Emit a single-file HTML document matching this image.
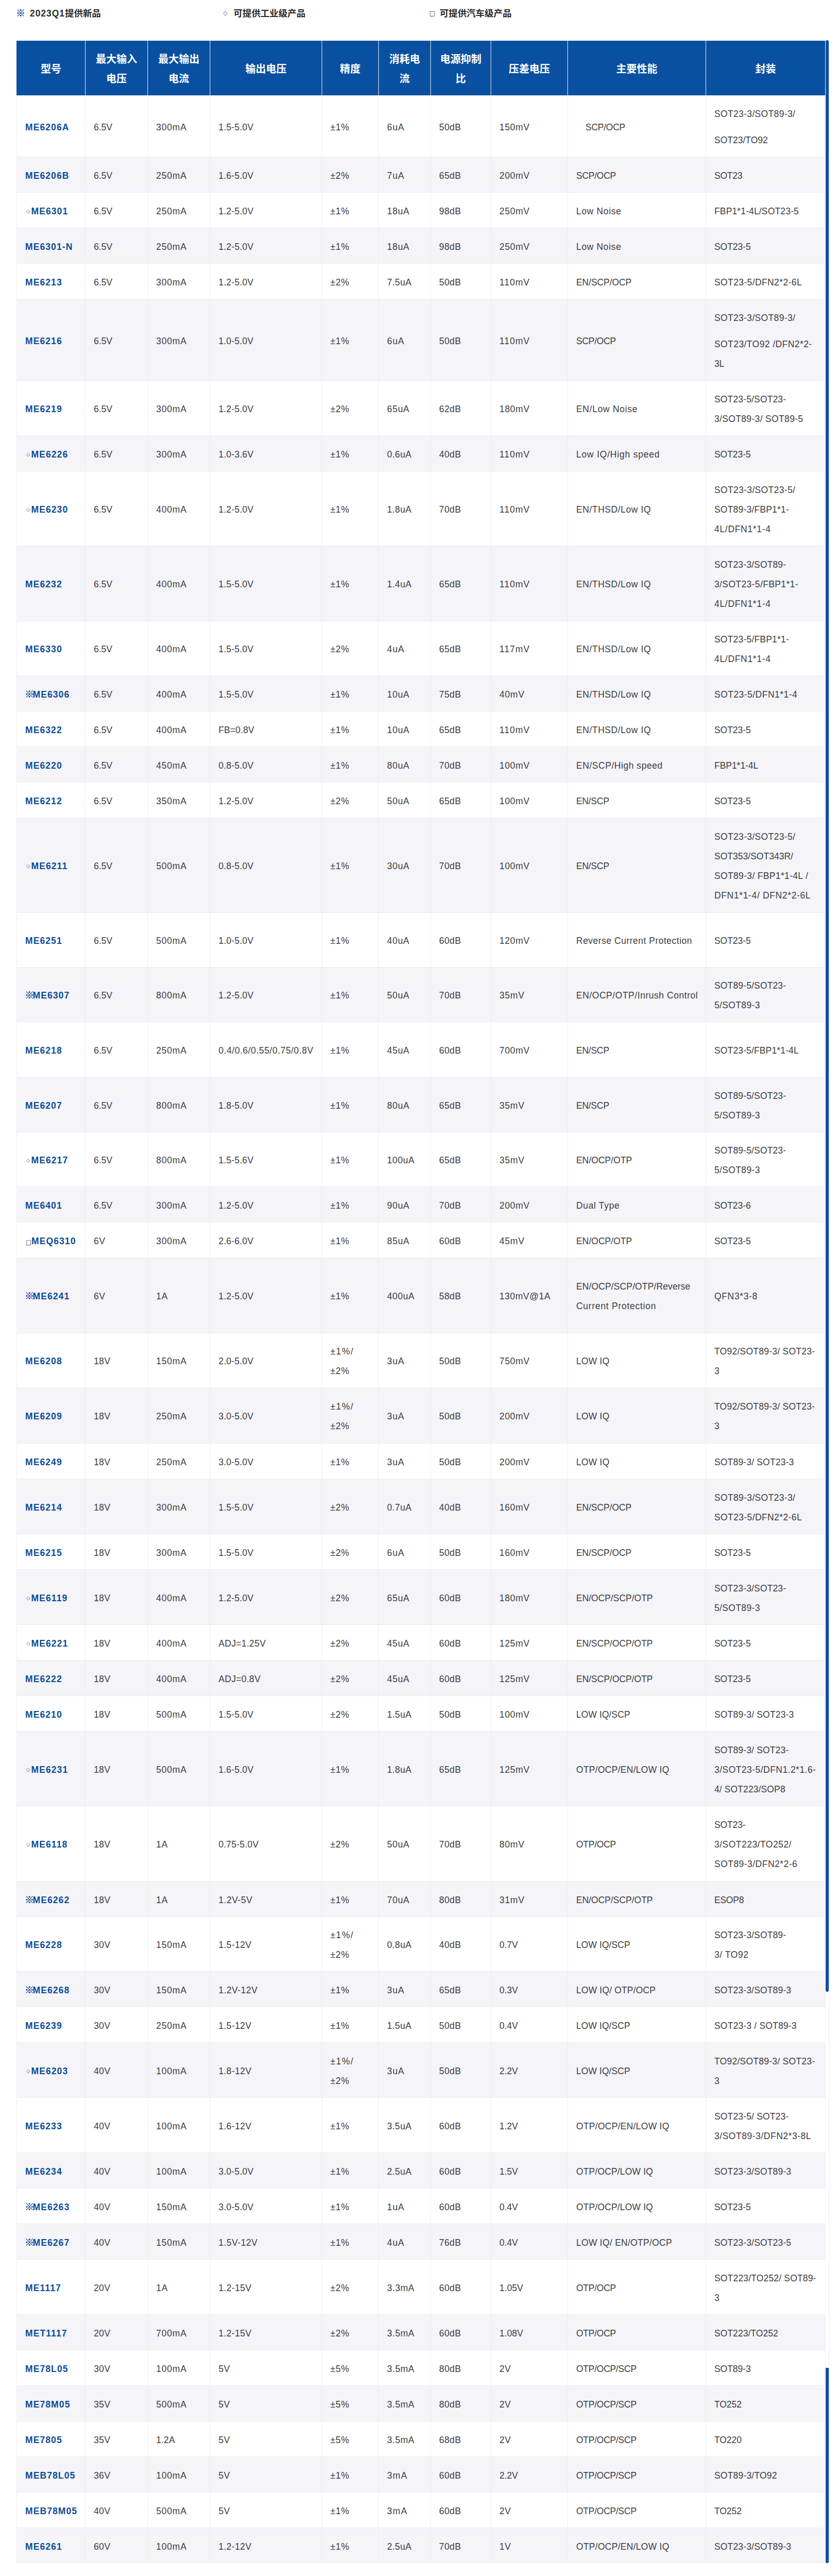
<!DOCTYPE html>
<html lang="zh-CN">
<head>
<meta charset="utf-8">
<title>LDO</title>
<style>
*{box-sizing:border-box;margin:0;padding:0}
html,body{background:#fff}
body{width:1624px;height:5007px;overflow:hidden;font-family:"Liberation Sans","Noto Sans CJK SC",sans-serif;font-size:17.5px;color:#3d3d3d;line-height:38px}
.page{position:relative;width:1624px;height:5007px;overflow:hidden}
i{font-style:normal}
.legend{list-style:none;position:absolute;left:0;top:7px;height:38px;width:1624px}
.legend li{position:absolute;top:0;white-space:nowrap;line-height:38px}
.legend b{font-weight:bold;color:#2b2b2b;letter-spacing:-.05px}
.legend b span{letter-spacing:.95px}
.legend i{display:inline-block;width:25px;vertical-align:top}
.legend .lx{color:#174a96;font-weight:bold;font-size:18px;margin-left:-2px;width:27px;-webkit-text-stroke:.4px #174a96}
.legend .ld{font-size:11px;width:20px;color:#1c3d7a}
.legend .ls{font-size:12px;width:20px;color:#1c3d7a}
.tbl{position:absolute;left:32px;top:79px;width:1570px;border-right:1px solid #eef2f8}
.tr{display:flex;width:1569px;background:#fff}
.tr.odd{background:#f4f4f9}
.td{flex:none;display:flex;align-items:center;border-left:1px solid #eeeef2;border-top:1px solid #eeeef2;padding:3px 8px 0 16px;white-space:nowrap;overflow:hidden;letter-spacing:.35px}
.td>div{width:100%}
.th{background:#0950a1}
.th .td{justify-content:center;text-align:center;color:#fff;font-weight:bold;font-size:20px;line-height:38px;padding:3px 0 0 0;border-left:1px solid #e4eefa;border-top:0;letter-spacing:0}
.th .td.c0{border-left:1px solid #0950a1}
.td.m{font-weight:bold;color:#0b4a97;letter-spacing:1.1px;padding-left:16px}
.td p.g{margin-top:13px}
.ind{padding-left:18px}
.sd,.ss,.sx{display:inline-block;vertical-align:top;letter-spacing:0}
.sd,.ss,.ld,.ls{font-family:"DejaVu Sans",sans-serif}
.sd{width:11.5px;font-size:9.5px;font-weight:normal;color:#1c2d5a;padding-left:2px}
.ss{width:12px;font-size:11.5px;font-weight:normal;color:#1c2d5a;padding-left:1px;position:relative;top:2.5px}
.sx{width:15.5px;font-size:18px;margin-left:-1px;-webkit-text-stroke:.35px #0b4a97}
.sb{position:absolute;left:1602px;width:6px;background:#0d4fa6}
.sb1{top:78px;height:3788px;border-radius:3px}
.sb2{top:4596px;height:379px;border-radius:0 0 3px 3px}
.trk{position:absolute;left:1608px;top:79px;width:1px;height:4896px;background:#f1f1f3}
</style>
</head>
<body>
<div class="page">
<ul class="legend"><li style="left:33px"><i class="lx">※</i><b><span>2023Q1</span>提供新品</b></li><li style="left:433px"><i class="ld">◇</i><b>可提供工业级产品</b></li><li style="left:833px"><i class="ls">□</i><b>可提供汽车级产品</b></li></ul>
<div class="tbl">
<div class="tr th" style="height:106px"><div class="td c0" style="width:133px"><div>型号</div></div><div class="td c1" style="width:121px"><div>最大输入<br>电压</div></div><div class="td c2" style="width:121px"><div>最大输出<br>电流</div></div><div class="td c3" style="width:217px"><div>输出电压</div></div><div class="td c4" style="width:110px"><div>精度</div></div><div class="td c5" style="width:101px"><div>消耗电<br>流</div></div><div class="td c6" style="width:117px"><div>电源抑制<br>比</div></div><div class="td c7" style="width:149px"><div>压差电压</div></div><div class="td c8" style="width:268px"><div>主要性能</div></div><div class="td c9" style="width:232px"><div>封装</div></div></div>
<div class="tr" style="height:119px"><div class="td m" style="width:133px"><div>ME6206A</div></div><div class="td" style="width:121px"><div><span style="letter-spacing:-0.01px">6.5V</span></div></div><div class="td" style="width:121px"><div><span style="letter-spacing:0.79px">300mA</span></div></div><div class="td" style="width:217px"><div><span style="letter-spacing:0.22px">1.5-5.0V</span></div></div><div class="td" style="width:110px"><div><span style="letter-spacing:0.76px">±1%</span></div></div><div class="td" style="width:101px"><div><span style="letter-spacing:0.92px">6uA</span></div></div><div class="td" style="width:117px"><div><span style="letter-spacing:0.4px">50dB</span></div></div><div class="td" style="width:149px"><div><span style="letter-spacing:0.69px">150mV</span></div></div><div class="td" style="width:268px"><div><span class="ind"><span style="letter-spacing:-0.25px">SCP/OCP</span></span></div></div><div class="td" style="width:232px"><div><p><span style="letter-spacing:0.34px">SOT23-3/SOT89-3/</span></p><p class="g"><span style="letter-spacing:0px">SOT23/TO92</span></p></div></div></div>
<div class="tr odd" style="height:69px"><div class="td m" style="width:133px"><div>ME6206B</div></div><div class="td" style="width:121px"><div><span style="letter-spacing:-0.01px">6.5V</span></div></div><div class="td" style="width:121px"><div><span style="letter-spacing:0.79px">250mA</span></div></div><div class="td" style="width:217px"><div><span style="letter-spacing:0.22px">1.6-5.0V</span></div></div><div class="td" style="width:110px"><div><span style="letter-spacing:0.76px">±2%</span></div></div><div class="td" style="width:101px"><div><span style="letter-spacing:0.92px">7uA</span></div></div><div class="td" style="width:117px"><div><span style="letter-spacing:0.4px">65dB</span></div></div><div class="td" style="width:149px"><div><span style="letter-spacing:0.69px">200mV</span></div></div><div class="td" style="width:268px"><div><span style="letter-spacing:-0.25px">SCP/OCP</span></div></div><div class="td" style="width:232px"><div><span style="letter-spacing:-0.25px">SOT23</span></div></div></div>
<div class="tr" style="height:69px"><div class="td m" style="width:133px"><div><i class="sd">◇</i>ME6301</div></div><div class="td" style="width:121px"><div><span style="letter-spacing:-0.01px">6.5V</span></div></div><div class="td" style="width:121px"><div><span style="letter-spacing:0.79px">250mA</span></div></div><div class="td" style="width:217px"><div><span style="letter-spacing:0.22px">1.2-5.0V</span></div></div><div class="td" style="width:110px"><div><span style="letter-spacing:0.76px">±1%</span></div></div><div class="td" style="width:101px"><div><span style="letter-spacing:0.71px">18uA</span></div></div><div class="td" style="width:117px"><div><span style="letter-spacing:0.4px">98dB</span></div></div><div class="td" style="width:149px"><div><span style="letter-spacing:0.69px">250mV</span></div></div><div class="td" style="width:268px"><div><span style="letter-spacing:0.65px">Low Noise</span></div></div><div class="td" style="width:232px"><div><span style="letter-spacing:0.14px">FBP1*1-4L/SOT23-5</span></div></div></div>
<div class="tr odd" style="height:69px"><div class="td m" style="width:133px"><div>ME6301-N</div></div><div class="td" style="width:121px"><div><span style="letter-spacing:-0.01px">6.5V</span></div></div><div class="td" style="width:121px"><div><span style="letter-spacing:0.79px">250mA</span></div></div><div class="td" style="width:217px"><div><span style="letter-spacing:0.22px">1.2-5.0V</span></div></div><div class="td" style="width:110px"><div><span style="letter-spacing:0.76px">±1%</span></div></div><div class="td" style="width:101px"><div><span style="letter-spacing:0.71px">18uA</span></div></div><div class="td" style="width:117px"><div><span style="letter-spacing:0.4px">98dB</span></div></div><div class="td" style="width:149px"><div><span style="letter-spacing:0.69px">250mV</span></div></div><div class="td" style="width:268px"><div><span style="letter-spacing:0.65px">Low Noise</span></div></div><div class="td" style="width:232px"><div><span style="letter-spacing:-0.06px">SOT23-5</span></div></div></div>
<div class="tr" style="height:69px"><div class="td m" style="width:133px"><div>ME6213</div></div><div class="td" style="width:121px"><div><span style="letter-spacing:-0.01px">6.5V</span></div></div><div class="td" style="width:121px"><div><span style="letter-spacing:0.79px">300mA</span></div></div><div class="td" style="width:217px"><div><span style="letter-spacing:0.22px">1.2-5.0V</span></div></div><div class="td" style="width:110px"><div><span style="letter-spacing:0.76px">±2%</span></div></div><div class="td" style="width:101px"><div><span style="letter-spacing:0.35px">7.5uA</span></div></div><div class="td" style="width:117px"><div><span style="letter-spacing:0.4px">50dB</span></div></div><div class="td" style="width:149px"><div><span style="letter-spacing:1.01px">110mV</span></div></div><div class="td" style="width:268px"><div><span style="letter-spacing:-0.08px">EN/SCP/OCP</span></div></div><div class="td" style="width:232px"><div><span style="letter-spacing:0.39px">SOT23-5/DFN2*2-6L</span></div></div></div>
<div class="tr odd" style="height:159px"><div class="td m" style="width:133px"><div>ME6216</div></div><div class="td" style="width:121px"><div><span style="letter-spacing:-0.01px">6.5V</span></div></div><div class="td" style="width:121px"><div><span style="letter-spacing:0.79px">300mA</span></div></div><div class="td" style="width:217px"><div><span style="letter-spacing:0.22px">1.0-5.0V</span></div></div><div class="td" style="width:110px"><div><span style="letter-spacing:0.76px">±1%</span></div></div><div class="td" style="width:101px"><div><span style="letter-spacing:0.92px">6uA</span></div></div><div class="td" style="width:117px"><div><span style="letter-spacing:0.4px">50dB</span></div></div><div class="td" style="width:149px"><div><span style="letter-spacing:1.01px">110mV</span></div></div><div class="td" style="width:268px"><div><span style="letter-spacing:-0.25px">SCP/OCP</span></div></div><div class="td" style="width:232px"><div><p><span style="letter-spacing:0.34px">SOT23-3/SOT89-3/</span></p><p class="g"><span style="letter-spacing:0.42px">SOT23/TO92 /DFN2*2-</span><br><span style="letter-spacing:-0.25px">3L</span></p></div></div></div>
<div class="tr" style="height:106px"><div class="td m" style="width:133px"><div>ME6219</div></div><div class="td" style="width:121px"><div><span style="letter-spacing:-0.01px">6.5V</span></div></div><div class="td" style="width:121px"><div><span style="letter-spacing:0.79px">300mA</span></div></div><div class="td" style="width:217px"><div><span style="letter-spacing:0.22px">1.2-5.0V</span></div></div><div class="td" style="width:110px"><div><span style="letter-spacing:0.76px">±2%</span></div></div><div class="td" style="width:101px"><div><span style="letter-spacing:0.71px">65uA</span></div></div><div class="td" style="width:117px"><div><span style="letter-spacing:0.4px">62dB</span></div></div><div class="td" style="width:149px"><div><span style="letter-spacing:0.69px">180mV</span></div></div><div class="td" style="width:268px"><div><span style="letter-spacing:0.69px">EN/Low Noise</span></div></div><div class="td" style="width:232px"><div><span style="letter-spacing:0.15px">SOT23-5/SOT23-</span><br><span style="letter-spacing:0.34px">3/SOT89-3/ SOT89-5</span></div></div></div>
<div class="tr odd" style="height:69px"><div class="td m" style="width:133px"><div><i class="sd">◇</i>ME6226</div></div><div class="td" style="width:121px"><div><span style="letter-spacing:-0.01px">6.5V</span></div></div><div class="td" style="width:121px"><div><span style="letter-spacing:0.79px">300mA</span></div></div><div class="td" style="width:217px"><div><span style="letter-spacing:0.22px">1.0-3.6V</span></div></div><div class="td" style="width:110px"><div><span style="letter-spacing:0.76px">±1%</span></div></div><div class="td" style="width:101px"><div><span style="letter-spacing:0.35px">0.6uA</span></div></div><div class="td" style="width:117px"><div><span style="letter-spacing:0.4px">40dB</span></div></div><div class="td" style="width:149px"><div><span style="letter-spacing:1.01px">110mV</span></div></div><div class="td" style="width:268px"><div><span style="letter-spacing:0.79px">Low IQ/High speed</span></div></div><div class="td" style="width:232px"><div><span style="letter-spacing:-0.06px">SOT23-5</span></div></div></div>
<div class="tr" style="height:145px"><div class="td m" style="width:133px"><div><i class="sd">◇</i>ME6230</div></div><div class="td" style="width:121px"><div><span style="letter-spacing:-0.01px">6.5V</span></div></div><div class="td" style="width:121px"><div><span style="letter-spacing:0.79px">400mA</span></div></div><div class="td" style="width:217px"><div><span style="letter-spacing:0.22px">1.2-5.0V</span></div></div><div class="td" style="width:110px"><div><span style="letter-spacing:0.76px">±1%</span></div></div><div class="td" style="width:101px"><div><span style="letter-spacing:0.35px">1.8uA</span></div></div><div class="td" style="width:117px"><div><span style="letter-spacing:0.4px">70dB</span></div></div><div class="td" style="width:149px"><div><span style="letter-spacing:1.01px">110mV</span></div></div><div class="td" style="width:268px"><div><span style="letter-spacing:0.57px">EN/THSD/Low IQ</span></div></div><div class="td" style="width:232px"><div><span style="letter-spacing:0.34px">SOT23-3/SOT23-5/</span><br><span style="letter-spacing:0.2px">SOT89-3/FBP1*1-</span><br><span style="letter-spacing:0.69px">4L/DFN1*1-4</span></div></div></div>
<div class="tr odd" style="height:146px"><div class="td m" style="width:133px"><div>ME6232</div></div><div class="td" style="width:121px"><div><span style="letter-spacing:-0.01px">6.5V</span></div></div><div class="td" style="width:121px"><div><span style="letter-spacing:0.79px">400mA</span></div></div><div class="td" style="width:217px"><div><span style="letter-spacing:0.22px">1.5-5.0V</span></div></div><div class="td" style="width:110px"><div><span style="letter-spacing:0.76px">±1%</span></div></div><div class="td" style="width:101px"><div><span style="letter-spacing:0.35px">1.4uA</span></div></div><div class="td" style="width:117px"><div><span style="letter-spacing:0.4px">65dB</span></div></div><div class="td" style="width:149px"><div><span style="letter-spacing:1.01px">110mV</span></div></div><div class="td" style="width:268px"><div><span style="letter-spacing:0.57px">EN/THSD/Low IQ</span></div></div><div class="td" style="width:232px"><div><span style="letter-spacing:0.15px">SOT23-3/SOT89-</span><br><span style="letter-spacing:0.37px">3/SOT23-5/FBP1*1-</span><br><span style="letter-spacing:0.69px">4L/DFN1*1-4</span></div></div></div>
<div class="tr" style="height:106px"><div class="td m" style="width:133px"><div>ME6330</div></div><div class="td" style="width:121px"><div><span style="letter-spacing:-0.01px">6.5V</span></div></div><div class="td" style="width:121px"><div><span style="letter-spacing:0.79px">400mA</span></div></div><div class="td" style="width:217px"><div><span style="letter-spacing:0.22px">1.5-5.0V</span></div></div><div class="td" style="width:110px"><div><span style="letter-spacing:0.76px">±2%</span></div></div><div class="td" style="width:101px"><div><span style="letter-spacing:0.92px">4uA</span></div></div><div class="td" style="width:117px"><div><span style="letter-spacing:0.4px">65dB</span></div></div><div class="td" style="width:149px"><div><span style="letter-spacing:1.01px">117mV</span></div></div><div class="td" style="width:268px"><div><span style="letter-spacing:0.57px">EN/THSD/Low IQ</span></div></div><div class="td" style="width:232px"><div><span style="letter-spacing:0.2px">SOT23-5/FBP1*1-</span><br><span style="letter-spacing:0.69px">4L/DFN1*1-4</span></div></div></div>
<div class="tr odd" style="height:69px"><div class="td m" style="width:133px"><div><i class="sx">※</i>ME6306</div></div><div class="td" style="width:121px"><div><span style="letter-spacing:-0.01px">6.5V</span></div></div><div class="td" style="width:121px"><div><span style="letter-spacing:0.79px">400mA</span></div></div><div class="td" style="width:217px"><div><span style="letter-spacing:0.22px">1.5-5.0V</span></div></div><div class="td" style="width:110px"><div><span style="letter-spacing:0.76px">±1%</span></div></div><div class="td" style="width:101px"><div><span style="letter-spacing:0.71px">10uA</span></div></div><div class="td" style="width:117px"><div><span style="letter-spacing:0.4px">75dB</span></div></div><div class="td" style="width:149px"><div><span style="letter-spacing:0.82px">40mV</span></div></div><div class="td" style="width:268px"><div><span style="letter-spacing:0.57px">EN/THSD/Low IQ</span></div></div><div class="td" style="width:232px"><div><span style="letter-spacing:0.47px">SOT23-5/DFN1*1-4</span></div></div></div>
<div class="tr" style="height:69px"><div class="td m" style="width:133px"><div>ME6322</div></div><div class="td" style="width:121px"><div><span style="letter-spacing:-0.01px">6.5V</span></div></div><div class="td" style="width:121px"><div><span style="letter-spacing:0.79px">400mA</span></div></div><div class="td" style="width:217px"><div><span style="letter-spacing:0.09px">FB=0.8V</span></div></div><div class="td" style="width:110px"><div><span style="letter-spacing:0.76px">±1%</span></div></div><div class="td" style="width:101px"><div><span style="letter-spacing:0.71px">10uA</span></div></div><div class="td" style="width:117px"><div><span style="letter-spacing:0.4px">65dB</span></div></div><div class="td" style="width:149px"><div><span style="letter-spacing:1.01px">110mV</span></div></div><div class="td" style="width:268px"><div><span style="letter-spacing:0.57px">EN/THSD/Low IQ</span></div></div><div class="td" style="width:232px"><div><span style="letter-spacing:-0.06px">SOT23-5</span></div></div></div>
<div class="tr odd" style="height:69px"><div class="td m" style="width:133px"><div>ME6220</div></div><div class="td" style="width:121px"><div><span style="letter-spacing:-0.01px">6.5V</span></div></div><div class="td" style="width:121px"><div><span style="letter-spacing:0.79px">450mA</span></div></div><div class="td" style="width:217px"><div><span style="letter-spacing:0.22px">0.8-5.0V</span></div></div><div class="td" style="width:110px"><div><span style="letter-spacing:0.76px">±1%</span></div></div><div class="td" style="width:101px"><div><span style="letter-spacing:0.71px">80uA</span></div></div><div class="td" style="width:117px"><div><span style="letter-spacing:0.4px">70dB</span></div></div><div class="td" style="width:149px"><div><span style="letter-spacing:0.69px">100mV</span></div></div><div class="td" style="width:268px"><div><span style="letter-spacing:0.54px">EN/SCP/High speed</span></div></div><div class="td" style="width:232px"><div><span style="letter-spacing:-0.04px">FBP1*1-4L</span></div></div></div>
<div class="tr" style="height:69px"><div class="td m" style="width:133px"><div>ME6212</div></div><div class="td" style="width:121px"><div><span style="letter-spacing:-0.01px">6.5V</span></div></div><div class="td" style="width:121px"><div><span style="letter-spacing:0.79px">350mA</span></div></div><div class="td" style="width:217px"><div><span style="letter-spacing:0.22px">1.2-5.0V</span></div></div><div class="td" style="width:110px"><div><span style="letter-spacing:0.76px">±2%</span></div></div><div class="td" style="width:101px"><div><span style="letter-spacing:0.71px">50uA</span></div></div><div class="td" style="width:117px"><div><span style="letter-spacing:0.4px">65dB</span></div></div><div class="td" style="width:149px"><div><span style="letter-spacing:0.69px">100mV</span></div></div><div class="td" style="width:268px"><div><span style="letter-spacing:-0.22px">EN/SCP</span></div></div><div class="td" style="width:232px"><div><span style="letter-spacing:-0.06px">SOT23-5</span></div></div></div>
<div class="tr odd" style="height:184px"><div class="td m" style="width:133px"><div><i class="sd">◇</i>ME6211</div></div><div class="td" style="width:121px"><div><span style="letter-spacing:-0.01px">6.5V</span></div></div><div class="td" style="width:121px"><div><span style="letter-spacing:0.79px">500mA</span></div></div><div class="td" style="width:217px"><div><span style="letter-spacing:0.22px">0.8-5.0V</span></div></div><div class="td" style="width:110px"><div><span style="letter-spacing:0.76px">±1%</span></div></div><div class="td" style="width:101px"><div><span style="letter-spacing:0.71px">30uA</span></div></div><div class="td" style="width:117px"><div><span style="letter-spacing:0.4px">70dB</span></div></div><div class="td" style="width:149px"><div><span style="letter-spacing:0.69px">100mV</span></div></div><div class="td" style="width:268px"><div><span style="letter-spacing:-0.22px">EN/SCP</span></div></div><div class="td" style="width:232px"><div><span style="letter-spacing:0.34px">SOT23-3/SOT23-5/</span><br><span style="letter-spacing:0.02px">SOT353/SOT343R/</span><br><span style="letter-spacing:0.34px">SOT89-3/ FBP1*1-4L /</span><br><span style="letter-spacing:0.64px">DFN1*1-4/ DFN2*2-6L</span></div></div></div>
<div class="tr" style="height:106px"><div class="td m" style="width:133px"><div>ME6251</div></div><div class="td" style="width:121px"><div><span style="letter-spacing:-0.01px">6.5V</span></div></div><div class="td" style="width:121px"><div><span style="letter-spacing:0.79px">500mA</span></div></div><div class="td" style="width:217px"><div><span style="letter-spacing:0.22px">1.0-5.0V</span></div></div><div class="td" style="width:110px"><div><span style="letter-spacing:0.76px">±1%</span></div></div><div class="td" style="width:101px"><div><span style="letter-spacing:0.71px">40uA</span></div></div><div class="td" style="width:117px"><div><span style="letter-spacing:0.4px">60dB</span></div></div><div class="td" style="width:149px"><div><span style="letter-spacing:0.69px">120mV</span></div></div><div class="td" style="width:268px"><div><span style="letter-spacing:0.5px">Reverse Current Protection</span></div></div><div class="td" style="width:232px"><div><span style="letter-spacing:-0.06px">SOT23-5</span></div></div></div>
<div class="tr odd" style="height:106px"><div class="td m" style="width:133px"><div><i class="sx">※</i>ME6307</div></div><div class="td" style="width:121px"><div><span style="letter-spacing:-0.01px">6.5V</span></div></div><div class="td" style="width:121px"><div><span style="letter-spacing:0.79px">800mA</span></div></div><div class="td" style="width:217px"><div><span style="letter-spacing:0.22px">1.2-5.0V</span></div></div><div class="td" style="width:110px"><div><span style="letter-spacing:0.76px">±1%</span></div></div><div class="td" style="width:101px"><div><span style="letter-spacing:0.71px">50uA</span></div></div><div class="td" style="width:117px"><div><span style="letter-spacing:0.4px">70dB</span></div></div><div class="td" style="width:149px"><div><span style="letter-spacing:0.82px">35mV</span></div></div><div class="td" style="width:268px"><div><span style="letter-spacing:0.54px">EN/OCP/OTP/Inrush Control</span></div></div><div class="td" style="width:232px"><div><span style="letter-spacing:0.15px">SOT89-5/SOT23-</span><br><span style="letter-spacing:0.35px">5/SOT89-3</span></div></div></div>
<div class="tr" style="height:107px"><div class="td m" style="width:133px"><div>ME6218</div></div><div class="td" style="width:121px"><div><span style="letter-spacing:-0.01px">6.5V</span></div></div><div class="td" style="width:121px"><div><span style="letter-spacing:0.79px">250mA</span></div></div><div class="td" style="width:217px"><div><span style="letter-spacing:0.55px">0.4/0.6/0.55/0.75/0.8V</span></div></div><div class="td" style="width:110px"><div><span style="letter-spacing:0.76px">±1%</span></div></div><div class="td" style="width:101px"><div><span style="letter-spacing:0.71px">45uA</span></div></div><div class="td" style="width:117px"><div><span style="letter-spacing:0.4px">60dB</span></div></div><div class="td" style="width:149px"><div><span style="letter-spacing:0.69px">700mV</span></div></div><div class="td" style="width:268px"><div><span style="letter-spacing:-0.22px">EN/SCP</span></div></div><div class="td" style="width:232px"><div><span style="letter-spacing:0.14px">SOT23-5/FBP1*1-4L</span></div></div></div>
<div class="tr odd" style="height:107px"><div class="td m" style="width:133px"><div>ME6207</div></div><div class="td" style="width:121px"><div><span style="letter-spacing:-0.01px">6.5V</span></div></div><div class="td" style="width:121px"><div><span style="letter-spacing:0.79px">800mA</span></div></div><div class="td" style="width:217px"><div><span style="letter-spacing:0.22px">1.8-5.0V</span></div></div><div class="td" style="width:110px"><div><span style="letter-spacing:0.76px">±1%</span></div></div><div class="td" style="width:101px"><div><span style="letter-spacing:0.71px">80uA</span></div></div><div class="td" style="width:117px"><div><span style="letter-spacing:0.4px">65dB</span></div></div><div class="td" style="width:149px"><div><span style="letter-spacing:0.82px">35mV</span></div></div><div class="td" style="width:268px"><div><span style="letter-spacing:-0.22px">EN/SCP</span></div></div><div class="td" style="width:232px"><div><span style="letter-spacing:0.15px">SOT89-5/SOT23-</span><br><span style="letter-spacing:0.35px">5/SOT89-3</span></div></div></div>
<div class="tr" style="height:106px"><div class="td m" style="width:133px"><div><i class="sd">◇</i>ME6217</div></div><div class="td" style="width:121px"><div><span style="letter-spacing:-0.01px">6.5V</span></div></div><div class="td" style="width:121px"><div><span style="letter-spacing:0.79px">800mA</span></div></div><div class="td" style="width:217px"><div><span style="letter-spacing:0.22px">1.5-5.6V</span></div></div><div class="td" style="width:110px"><div><span style="letter-spacing:0.76px">±1%</span></div></div><div class="td" style="width:101px"><div><span style="letter-spacing:0.6px">100uA</span></div></div><div class="td" style="width:117px"><div><span style="letter-spacing:0.4px">65dB</span></div></div><div class="td" style="width:149px"><div><span style="letter-spacing:0.82px">35mV</span></div></div><div class="td" style="width:268px"><div><span style="letter-spacing:0.04px">EN/OCP/OTP</span></div></div><div class="td" style="width:232px"><div><span style="letter-spacing:0.15px">SOT89-5/SOT23-</span><br><span style="letter-spacing:0.35px">5/SOT89-3</span></div></div></div>
<div class="tr odd" style="height:69px"><div class="td m" style="width:133px"><div>ME6401</div></div><div class="td" style="width:121px"><div><span style="letter-spacing:-0.01px">6.5V</span></div></div><div class="td" style="width:121px"><div><span style="letter-spacing:0.79px">300mA</span></div></div><div class="td" style="width:217px"><div><span style="letter-spacing:0.22px">1.2-5.0V</span></div></div><div class="td" style="width:110px"><div><span style="letter-spacing:0.76px">±1%</span></div></div><div class="td" style="width:101px"><div><span style="letter-spacing:0.71px">90uA</span></div></div><div class="td" style="width:117px"><div><span style="letter-spacing:0.4px">70dB</span></div></div><div class="td" style="width:149px"><div><span style="letter-spacing:0.69px">200mV</span></div></div><div class="td" style="width:268px"><div><span style="letter-spacing:0.66px">Dual Type</span></div></div><div class="td" style="width:232px"><div><span style="letter-spacing:-0.06px">SOT23-6</span></div></div></div>
<div class="tr" style="height:69px"><div class="td m" style="width:133px"><div><i class="ss">□</i>MEQ6310</div></div><div class="td" style="width:121px"><div><span style="letter-spacing:0.44px">6V</span></div></div><div class="td" style="width:121px"><div><span style="letter-spacing:0.79px">300mA</span></div></div><div class="td" style="width:217px"><div><span style="letter-spacing:0.22px">2.6-6.0V</span></div></div><div class="td" style="width:110px"><div><span style="letter-spacing:0.76px">±1%</span></div></div><div class="td" style="width:101px"><div><span style="letter-spacing:0.71px">85uA</span></div></div><div class="td" style="width:117px"><div><span style="letter-spacing:0.4px">60dB</span></div></div><div class="td" style="width:149px"><div><span style="letter-spacing:0.82px">45mV</span></div></div><div class="td" style="width:268px"><div><span style="letter-spacing:0.04px">EN/OCP/OTP</span></div></div><div class="td" style="width:232px"><div><span style="letter-spacing:-0.06px">SOT23-5</span></div></div></div>
<div class="tr odd" style="height:146px"><div class="td m" style="width:133px"><div><i class="sx">※</i>ME6241</div></div><div class="td" style="width:121px"><div><span style="letter-spacing:0.44px">6V</span></div></div><div class="td" style="width:121px"><div><span style="letter-spacing:0.85px">1A</span></div></div><div class="td" style="width:217px"><div><span style="letter-spacing:0.22px">1.2-5.0V</span></div></div><div class="td" style="width:110px"><div><span style="letter-spacing:0.76px">±1%</span></div></div><div class="td" style="width:101px"><div><span style="letter-spacing:0.6px">400uA</span></div></div><div class="td" style="width:117px"><div><span style="letter-spacing:0.4px">58dB</span></div></div><div class="td" style="width:149px"><div><span style="letter-spacing:0.57px">130mV@1A</span></div></div><div class="td" style="width:268px"><div><span style="letter-spacing:0.12px">EN/OCP/SCP/OTP/Reverse</span><br><span style="letter-spacing:0.73px">Current Protection</span></div></div><div class="td" style="width:232px"><div><span style="letter-spacing:0.65px">QFN3*3-8</span></div></div></div>
<div class="tr" style="height:106px"><div class="td m" style="width:133px"><div>ME6208</div></div><div class="td" style="width:121px"><div><span style="letter-spacing:0.36px">18V</span></div></div><div class="td" style="width:121px"><div><span style="letter-spacing:0.79px">150mA</span></div></div><div class="td" style="width:217px"><div><span style="letter-spacing:0.22px">2.0-5.0V</span></div></div><div class="td" style="width:110px"><div><span style="letter-spacing:1.49px">±1%/</span><br><span style="letter-spacing:0.76px">±2%</span></div></div><div class="td" style="width:101px"><div><span style="letter-spacing:0.92px">3uA</span></div></div><div class="td" style="width:117px"><div><span style="letter-spacing:0.4px">50dB</span></div></div><div class="td" style="width:149px"><div><span style="letter-spacing:0.69px">750mV</span></div></div><div class="td" style="width:268px"><div><span style="letter-spacing:0.21px">LOW IQ</span></div></div><div class="td" style="width:232px"><div><span style="letter-spacing:0.25px">TO92/SOT89-3/ SOT23-</span><br><span style="letter-spacing:0.28px">3</span></div></div></div>
<div class="tr odd" style="height:108px"><div class="td m" style="width:133px"><div>ME6209</div></div><div class="td" style="width:121px"><div><span style="letter-spacing:0.36px">18V</span></div></div><div class="td" style="width:121px"><div><span style="letter-spacing:0.79px">250mA</span></div></div><div class="td" style="width:217px"><div><span style="letter-spacing:0.22px">3.0-5.0V</span></div></div><div class="td" style="width:110px"><div><span style="letter-spacing:1.49px">±1%/</span><br><span style="letter-spacing:0.76px">±2%</span></div></div><div class="td" style="width:101px"><div><span style="letter-spacing:0.92px">3uA</span></div></div><div class="td" style="width:117px"><div><span style="letter-spacing:0.4px">50dB</span></div></div><div class="td" style="width:149px"><div><span style="letter-spacing:0.69px">200mV</span></div></div><div class="td" style="width:268px"><div><span style="letter-spacing:0.21px">LOW IQ</span></div></div><div class="td" style="width:232px"><div><span style="letter-spacing:0.25px">TO92/SOT89-3/ SOT23-</span><br><span style="letter-spacing:0.28px">3</span></div></div></div>
<div class="tr" style="height:69px"><div class="td m" style="width:133px"><div>ME6249</div></div><div class="td" style="width:121px"><div><span style="letter-spacing:0.36px">18V</span></div></div><div class="td" style="width:121px"><div><span style="letter-spacing:0.79px">250mA</span></div></div><div class="td" style="width:217px"><div><span style="letter-spacing:0.22px">3.0-5.0V</span></div></div><div class="td" style="width:110px"><div><span style="letter-spacing:0.76px">±1%</span></div></div><div class="td" style="width:101px"><div><span style="letter-spacing:0.92px">3uA</span></div></div><div class="td" style="width:117px"><div><span style="letter-spacing:0.4px">50dB</span></div></div><div class="td" style="width:149px"><div><span style="letter-spacing:0.69px">200mV</span></div></div><div class="td" style="width:268px"><div><span style="letter-spacing:0.21px">LOW IQ</span></div></div><div class="td" style="width:232px"><div><span style="letter-spacing:0.17px">SOT89-3/ SOT23-3</span></div></div></div>
<div class="tr odd" style="height:107px"><div class="td m" style="width:133px"><div>ME6214</div></div><div class="td" style="width:121px"><div><span style="letter-spacing:0.36px">18V</span></div></div><div class="td" style="width:121px"><div><span style="letter-spacing:0.79px">300mA</span></div></div><div class="td" style="width:217px"><div><span style="letter-spacing:0.22px">1.5-5.0V</span></div></div><div class="td" style="width:110px"><div><span style="letter-spacing:0.76px">±2%</span></div></div><div class="td" style="width:101px"><div><span style="letter-spacing:0.35px">0.7uA</span></div></div><div class="td" style="width:117px"><div><span style="letter-spacing:0.4px">40dB</span></div></div><div class="td" style="width:149px"><div><span style="letter-spacing:0.69px">160mV</span></div></div><div class="td" style="width:268px"><div><span style="letter-spacing:-0.08px">EN/SCP/OCP</span></div></div><div class="td" style="width:232px"><div><span style="letter-spacing:0.34px">SOT89-3/SOT23-3/</span><br><span style="letter-spacing:0.39px">SOT23-5/DFN2*2-6L</span></div></div></div>
<div class="tr" style="height:69px"><div class="td m" style="width:133px"><div>ME6215</div></div><div class="td" style="width:121px"><div><span style="letter-spacing:0.36px">18V</span></div></div><div class="td" style="width:121px"><div><span style="letter-spacing:0.79px">300mA</span></div></div><div class="td" style="width:217px"><div><span style="letter-spacing:0.22px">1.5-5.0V</span></div></div><div class="td" style="width:110px"><div><span style="letter-spacing:0.76px">±2%</span></div></div><div class="td" style="width:101px"><div><span style="letter-spacing:0.92px">6uA</span></div></div><div class="td" style="width:117px"><div><span style="letter-spacing:0.4px">50dB</span></div></div><div class="td" style="width:149px"><div><span style="letter-spacing:0.69px">160mV</span></div></div><div class="td" style="width:268px"><div><span style="letter-spacing:-0.08px">EN/SCP/OCP</span></div></div><div class="td" style="width:232px"><div><span style="letter-spacing:-0.06px">SOT23-5</span></div></div></div>
<div class="tr odd" style="height:107px"><div class="td m" style="width:133px"><div><i class="sd">◇</i>ME6119</div></div><div class="td" style="width:121px"><div><span style="letter-spacing:0.36px">18V</span></div></div><div class="td" style="width:121px"><div><span style="letter-spacing:0.79px">400mA</span></div></div><div class="td" style="width:217px"><div><span style="letter-spacing:0.22px">1.2-5.0V</span></div></div><div class="td" style="width:110px"><div><span style="letter-spacing:0.76px">±2%</span></div></div><div class="td" style="width:101px"><div><span style="letter-spacing:0.71px">65uA</span></div></div><div class="td" style="width:117px"><div><span style="letter-spacing:0.4px">60dB</span></div></div><div class="td" style="width:149px"><div><span style="letter-spacing:0.69px">180mV</span></div></div><div class="td" style="width:268px"><div><span style="letter-spacing:-0.02px">EN/OCP/SCP/OTP</span></div></div><div class="td" style="width:232px"><div><span style="letter-spacing:0.15px">SOT23-3/SOT23-</span><br><span style="letter-spacing:0.35px">5/SOT89-3</span></div></div></div>
<div class="tr" style="height:69px"><div class="td m" style="width:133px"><div><i class="sd">◇</i>ME6221</div></div><div class="td" style="width:121px"><div><span style="letter-spacing:0.36px">18V</span></div></div><div class="td" style="width:121px"><div><span style="letter-spacing:0.79px">400mA</span></div></div><div class="td" style="width:217px"><div><span style="letter-spacing:0.29px">ADJ=1.25V</span></div></div><div class="td" style="width:110px"><div><span style="letter-spacing:0.76px">±2%</span></div></div><div class="td" style="width:101px"><div><span style="letter-spacing:0.71px">45uA</span></div></div><div class="td" style="width:117px"><div><span style="letter-spacing:0.4px">60dB</span></div></div><div class="td" style="width:149px"><div><span style="letter-spacing:0.69px">125mV</span></div></div><div class="td" style="width:268px"><div><span style="letter-spacing:-0.02px">EN/SCP/OCP/OTP</span></div></div><div class="td" style="width:232px"><div><span style="letter-spacing:-0.06px">SOT23-5</span></div></div></div>
<div class="tr odd" style="height:69px"><div class="td m" style="width:133px"><div>ME6222</div></div><div class="td" style="width:121px"><div><span style="letter-spacing:0.36px">18V</span></div></div><div class="td" style="width:121px"><div><span style="letter-spacing:0.79px">400mA</span></div></div><div class="td" style="width:217px"><div><span style="letter-spacing:0.29px">ADJ=0.8V</span></div></div><div class="td" style="width:110px"><div><span style="letter-spacing:0.76px">±2%</span></div></div><div class="td" style="width:101px"><div><span style="letter-spacing:0.71px">45uA</span></div></div><div class="td" style="width:117px"><div><span style="letter-spacing:0.4px">60dB</span></div></div><div class="td" style="width:149px"><div><span style="letter-spacing:0.69px">125mV</span></div></div><div class="td" style="width:268px"><div><span style="letter-spacing:-0.02px">EN/SCP/OCP/OTP</span></div></div><div class="td" style="width:232px"><div><span style="letter-spacing:-0.06px">SOT23-5</span></div></div></div>
<div class="tr" style="height:69px"><div class="td m" style="width:133px"><div>ME6210</div></div><div class="td" style="width:121px"><div><span style="letter-spacing:0.36px">18V</span></div></div><div class="td" style="width:121px"><div><span style="letter-spacing:0.79px">500mA</span></div></div><div class="td" style="width:217px"><div><span style="letter-spacing:0.22px">1.5-5.0V</span></div></div><div class="td" style="width:110px"><div><span style="letter-spacing:0.76px">±2%</span></div></div><div class="td" style="width:101px"><div><span style="letter-spacing:0.35px">1.5uA</span></div></div><div class="td" style="width:117px"><div><span style="letter-spacing:0.4px">50dB</span></div></div><div class="td" style="width:149px"><div><span style="letter-spacing:0.69px">100mV</span></div></div><div class="td" style="width:268px"><div><span style="letter-spacing:0.06px">LOW IQ/SCP</span></div></div><div class="td" style="width:232px"><div><span style="letter-spacing:0.17px">SOT89-3/ SOT23-3</span></div></div></div>
<div class="tr odd" style="height:145px"><div class="td m" style="width:133px"><div><i class="sd">◇</i>ME6231</div></div><div class="td" style="width:121px"><div><span style="letter-spacing:0.36px">18V</span></div></div><div class="td" style="width:121px"><div><span style="letter-spacing:0.79px">500mA</span></div></div><div class="td" style="width:217px"><div><span style="letter-spacing:0.22px">1.6-5.0V</span></div></div><div class="td" style="width:110px"><div><span style="letter-spacing:0.76px">±1%</span></div></div><div class="td" style="width:101px"><div><span style="letter-spacing:0.35px">1.8uA</span></div></div><div class="td" style="width:117px"><div><span style="letter-spacing:0.4px">65dB</span></div></div><div class="td" style="width:149px"><div><span style="letter-spacing:0.69px">125mV</span></div></div><div class="td" style="width:268px"><div><span style="letter-spacing:0.27px">OTP/OCP/EN/LOW IQ</span></div></div><div class="td" style="width:232px"><div><span style="letter-spacing:0.16px">SOT89-3/ SOT23-</span><br><span style="letter-spacing:0.46px">3/SOT23-5/DFN1.2*1.6-</span><br><span style="letter-spacing:0.11px">4/ SOT223/SOP8</span></div></div></div>
<div class="tr" style="height:146px"><div class="td m" style="width:133px"><div><i class="sd">◇</i>ME6118</div></div><div class="td" style="width:121px"><div><span style="letter-spacing:0.36px">18V</span></div></div><div class="td" style="width:121px"><div><span style="letter-spacing:0.85px">1A</span></div></div><div class="td" style="width:217px"><div><span style="letter-spacing:0.23px">0.75-5.0V</span></div></div><div class="td" style="width:110px"><div><span style="letter-spacing:0.76px">±2%</span></div></div><div class="td" style="width:101px"><div><span style="letter-spacing:0.71px">50uA</span></div></div><div class="td" style="width:117px"><div><span style="letter-spacing:0.4px">70dB</span></div></div><div class="td" style="width:149px"><div><span style="letter-spacing:0.82px">80mV</span></div></div><div class="td" style="width:268px"><div><span style="letter-spacing:-0.25px">OTP/OCP</span></div></div><div class="td" style="width:232px"><div><span style="letter-spacing:-0.13px">SOT23-</span><br><span style="letter-spacing:0.48px">3/SOT223/TO252/</span><br><span style="letter-spacing:0.47px">SOT89-3/DFN2*2-6</span></div></div></div>
<div class="tr odd" style="height:69px"><div class="td m" style="width:133px"><div><i class="sx">※</i>ME6262</div></div><div class="td" style="width:121px"><div><span style="letter-spacing:0.36px">18V</span></div></div><div class="td" style="width:121px"><div><span style="letter-spacing:0.85px">1A</span></div></div><div class="td" style="width:217px"><div><span style="letter-spacing:0.52px">1.2V-5V</span></div></div><div class="td" style="width:110px"><div><span style="letter-spacing:0.76px">±1%</span></div></div><div class="td" style="width:101px"><div><span style="letter-spacing:0.71px">70uA</span></div></div><div class="td" style="width:117px"><div><span style="letter-spacing:0.4px">80dB</span></div></div><div class="td" style="width:149px"><div><span style="letter-spacing:0.82px">31mV</span></div></div><div class="td" style="width:268px"><div><span style="letter-spacing:-0.02px">EN/OCP/SCP/OTP</span></div></div><div class="td" style="width:232px"><div><span style="letter-spacing:-0.25px">ESOP8</span></div></div></div>
<div class="tr" style="height:106px"><div class="td m" style="width:133px"><div>ME6228</div></div><div class="td" style="width:121px"><div><span style="letter-spacing:0.36px">30V</span></div></div><div class="td" style="width:121px"><div><span style="letter-spacing:0.79px">150mA</span></div></div><div class="td" style="width:217px"><div><span style="letter-spacing:0.38px">1.5-12V</span></div></div><div class="td" style="width:110px"><div><span style="letter-spacing:1.49px">±1%/</span><br><span style="letter-spacing:0.76px">±2%</span></div></div><div class="td" style="width:101px"><div><span style="letter-spacing:0.35px">0.8uA</span></div></div><div class="td" style="width:117px"><div><span style="letter-spacing:0.4px">40dB</span></div></div><div class="td" style="width:149px"><div><span style="letter-spacing:-0.01px">0.7V</span></div></div><div class="td" style="width:268px"><div><span style="letter-spacing:0.06px">LOW IQ/SCP</span></div></div><div class="td" style="width:232px"><div><span style="letter-spacing:0.15px">SOT23-3/SOT89-</span><br><span style="letter-spacing:0.56px">3/ TO92</span></div></div></div>
<div class="tr odd" style="height:69px"><div class="td m" style="width:133px"><div><i class="sx">※</i>ME6268</div></div><div class="td" style="width:121px"><div><span style="letter-spacing:0.36px">30V</span></div></div><div class="td" style="width:121px"><div><span style="letter-spacing:0.79px">150mA</span></div></div><div class="td" style="width:217px"><div><span style="letter-spacing:0.49px">1.2V-12V</span></div></div><div class="td" style="width:110px"><div><span style="letter-spacing:0.76px">±1%</span></div></div><div class="td" style="width:101px"><div><span style="letter-spacing:0.92px">3uA</span></div></div><div class="td" style="width:117px"><div><span style="letter-spacing:0.4px">65dB</span></div></div><div class="td" style="width:149px"><div><span style="letter-spacing:-0.01px">0.3V</span></div></div><div class="td" style="width:268px"><div><span style="letter-spacing:0.16px">LOW IQ/ OTP/OCP</span></div></div><div class="td" style="width:232px"><div><span style="letter-spacing:0.16px">SOT23-3/SOT89-3</span></div></div></div>
<div class="tr" style="height:69px"><div class="td m" style="width:133px"><div>ME6239</div></div><div class="td" style="width:121px"><div><span style="letter-spacing:0.36px">30V</span></div></div><div class="td" style="width:121px"><div><span style="letter-spacing:0.79px">250mA</span></div></div><div class="td" style="width:217px"><div><span style="letter-spacing:0.38px">1.5-12V</span></div></div><div class="td" style="width:110px"><div><span style="letter-spacing:0.76px">±1%</span></div></div><div class="td" style="width:101px"><div><span style="letter-spacing:0.35px">1.5uA</span></div></div><div class="td" style="width:117px"><div><span style="letter-spacing:0.4px">50dB</span></div></div><div class="td" style="width:149px"><div><span style="letter-spacing:-0.01px">0.4V</span></div></div><div class="td" style="width:268px"><div><span style="letter-spacing:0.06px">LOW IQ/SCP</span></div></div><div class="td" style="width:232px"><div><span style="letter-spacing:0.18px">SOT23-3 / SOT89-3</span></div></div></div>
<div class="tr odd" style="height:107px"><div class="td m" style="width:133px"><div><i class="sd">◇</i>ME6203</div></div><div class="td" style="width:121px"><div><span style="letter-spacing:0.36px">40V</span></div></div><div class="td" style="width:121px"><div><span style="letter-spacing:0.79px">100mA</span></div></div><div class="td" style="width:217px"><div><span style="letter-spacing:0.38px">1.8-12V</span></div></div><div class="td" style="width:110px"><div><span style="letter-spacing:1.49px">±1%/</span><br><span style="letter-spacing:0.76px">±2%</span></div></div><div class="td" style="width:101px"><div><span style="letter-spacing:0.92px">3uA</span></div></div><div class="td" style="width:117px"><div><span style="letter-spacing:0.4px">50dB</span></div></div><div class="td" style="width:149px"><div><span style="letter-spacing:-0.01px">2.2V</span></div></div><div class="td" style="width:268px"><div><span style="letter-spacing:0.06px">LOW IQ/SCP</span></div></div><div class="td" style="width:232px"><div><span style="letter-spacing:0.25px">TO92/SOT89-3/ SOT23-</span><br><span style="letter-spacing:0.28px">3</span></div></div></div>
<div class="tr" style="height:107px"><div class="td m" style="width:133px"><div>ME6233</div></div><div class="td" style="width:121px"><div><span style="letter-spacing:0.36px">40V</span></div></div><div class="td" style="width:121px"><div><span style="letter-spacing:0.79px">100mA</span></div></div><div class="td" style="width:217px"><div><span style="letter-spacing:0.38px">1.6-12V</span></div></div><div class="td" style="width:110px"><div><span style="letter-spacing:0.76px">±1%</span></div></div><div class="td" style="width:101px"><div><span style="letter-spacing:0.35px">3.5uA</span></div></div><div class="td" style="width:117px"><div><span style="letter-spacing:0.4px">60dB</span></div></div><div class="td" style="width:149px"><div><span style="letter-spacing:-0.01px">1.2V</span></div></div><div class="td" style="width:268px"><div><span style="letter-spacing:0.27px">OTP/OCP/EN/LOW IQ</span></div></div><div class="td" style="width:232px"><div><span style="letter-spacing:0.16px">SOT23-5/ SOT23-</span><br><span style="letter-spacing:0.53px">3/SOT89-3/DFN2*3-8L</span></div></div></div>
<div class="tr odd" style="height:69px"><div class="td m" style="width:133px"><div>ME6234</div></div><div class="td" style="width:121px"><div><span style="letter-spacing:0.36px">40V</span></div></div><div class="td" style="width:121px"><div><span style="letter-spacing:0.79px">100mA</span></div></div><div class="td" style="width:217px"><div><span style="letter-spacing:0.22px">3.0-5.0V</span></div></div><div class="td" style="width:110px"><div><span style="letter-spacing:0.76px">±1%</span></div></div><div class="td" style="width:101px"><div><span style="letter-spacing:0.35px">2.5uA</span></div></div><div class="td" style="width:117px"><div><span style="letter-spacing:0.4px">60dB</span></div></div><div class="td" style="width:149px"><div><span style="letter-spacing:-0.01px">1.5V</span></div></div><div class="td" style="width:268px"><div><span style="letter-spacing:0.15px">OTP/OCP/LOW IQ</span></div></div><div class="td" style="width:232px"><div><span style="letter-spacing:0.16px">SOT23-3/SOT89-3</span></div></div></div>
<div class="tr" style="height:69px"><div class="td m" style="width:133px"><div><i class="sx">※</i>ME6263</div></div><div class="td" style="width:121px"><div><span style="letter-spacing:0.36px">40V</span></div></div><div class="td" style="width:121px"><div><span style="letter-spacing:0.79px">150mA</span></div></div><div class="td" style="width:217px"><div><span style="letter-spacing:0.22px">3.0-5.0V</span></div></div><div class="td" style="width:110px"><div><span style="letter-spacing:0.76px">±1%</span></div></div><div class="td" style="width:101px"><div><span style="letter-spacing:0.92px">1uA</span></div></div><div class="td" style="width:117px"><div><span style="letter-spacing:0.4px">60dB</span></div></div><div class="td" style="width:149px"><div><span style="letter-spacing:-0.01px">0.4V</span></div></div><div class="td" style="width:268px"><div><span style="letter-spacing:0.15px">OTP/OCP/LOW IQ</span></div></div><div class="td" style="width:232px"><div><span style="letter-spacing:-0.06px">SOT23-5</span></div></div></div>
<div class="tr odd" style="height:69px"><div class="td m" style="width:133px"><div><i class="sx">※</i>ME6267</div></div><div class="td" style="width:121px"><div><span style="letter-spacing:0.36px">40V</span></div></div><div class="td" style="width:121px"><div><span style="letter-spacing:0.79px">150mA</span></div></div><div class="td" style="width:217px"><div><span style="letter-spacing:0.49px">1.5V-12V</span></div></div><div class="td" style="width:110px"><div><span style="letter-spacing:0.76px">±1%</span></div></div><div class="td" style="width:101px"><div><span style="letter-spacing:0.92px">4uA</span></div></div><div class="td" style="width:117px"><div><span style="letter-spacing:0.4px">76dB</span></div></div><div class="td" style="width:149px"><div><span style="letter-spacing:-0.01px">0.4V</span></div></div><div class="td" style="width:268px"><div><span style="letter-spacing:0.28px">LOW IQ/ EN/OTP/OCP</span></div></div><div class="td" style="width:232px"><div><span style="letter-spacing:0.16px">SOT23-3/SOT23-5</span></div></div></div>
<div class="tr" style="height:107px"><div class="td m" style="width:133px"><div>ME1117</div></div><div class="td" style="width:121px"><div><span style="letter-spacing:0.36px">20V</span></div></div><div class="td" style="width:121px"><div><span style="letter-spacing:0.85px">1A</span></div></div><div class="td" style="width:217px"><div><span style="letter-spacing:0.38px">1.2-15V</span></div></div><div class="td" style="width:110px"><div><span style="letter-spacing:0.76px">±2%</span></div></div><div class="td" style="width:101px"><div><span style="letter-spacing:0.53px">3.3mA</span></div></div><div class="td" style="width:117px"><div><span style="letter-spacing:0.4px">60dB</span></div></div><div class="td" style="width:149px"><div><span style="letter-spacing:0.06px">1.05V</span></div></div><div class="td" style="width:268px"><div><span style="letter-spacing:-0.25px">OTP/OCP</span></div></div><div class="td" style="width:232px"><div><span style="letter-spacing:0.17px">SOT223/TO252/ SOT89-</span><br><span style="letter-spacing:0.28px">3</span></div></div></div>
<div class="tr odd" style="height:69px"><div class="td m" style="width:133px"><div>MET1117</div></div><div class="td" style="width:121px"><div><span style="letter-spacing:0.36px">20V</span></div></div><div class="td" style="width:121px"><div><span style="letter-spacing:0.79px">700mA</span></div></div><div class="td" style="width:217px"><div><span style="letter-spacing:0.38px">1.2-15V</span></div></div><div class="td" style="width:110px"><div><span style="letter-spacing:0.76px">±2%</span></div></div><div class="td" style="width:101px"><div><span style="letter-spacing:0.53px">3.5mA</span></div></div><div class="td" style="width:117px"><div><span style="letter-spacing:0.4px">60dB</span></div></div><div class="td" style="width:149px"><div><span style="letter-spacing:0.06px">1.08V</span></div></div><div class="td" style="width:268px"><div><span style="letter-spacing:-0.25px">OTP/OCP</span></div></div><div class="td" style="width:232px"><div><span style="letter-spacing:0.05px">SOT223/TO252</span></div></div></div>
<div class="tr" style="height:69px"><div class="td m" style="width:133px"><div>ME78L05</div></div><div class="td" style="width:121px"><div><span style="letter-spacing:0.36px">30V</span></div></div><div class="td" style="width:121px"><div><span style="letter-spacing:0.79px">100mA</span></div></div><div class="td" style="width:217px"><div><span style="letter-spacing:0.44px">5V</span></div></div><div class="td" style="width:110px"><div><span style="letter-spacing:0.76px">±5%</span></div></div><div class="td" style="width:101px"><div><span style="letter-spacing:0.53px">3.5mA</span></div></div><div class="td" style="width:117px"><div><span style="letter-spacing:0.4px">80dB</span></div></div><div class="td" style="width:149px"><div><span style="letter-spacing:0.44px">2V</span></div></div><div class="td" style="width:268px"><div><span style="letter-spacing:-0.25px">OTP/OCP/SCP</span></div></div><div class="td" style="width:232px"><div><span style="letter-spacing:-0.06px">SOT89-3</span></div></div></div>
<div class="tr odd" style="height:69px"><div class="td m" style="width:133px"><div>ME78M05</div></div><div class="td" style="width:121px"><div><span style="letter-spacing:0.36px">35V</span></div></div><div class="td" style="width:121px"><div><span style="letter-spacing:0.79px">500mA</span></div></div><div class="td" style="width:217px"><div><span style="letter-spacing:0.44px">5V</span></div></div><div class="td" style="width:110px"><div><span style="letter-spacing:0.76px">±5%</span></div></div><div class="td" style="width:101px"><div><span style="letter-spacing:0.53px">3.5mA</span></div></div><div class="td" style="width:117px"><div><span style="letter-spacing:0.4px">80dB</span></div></div><div class="td" style="width:149px"><div><span style="letter-spacing:0.44px">2V</span></div></div><div class="td" style="width:268px"><div><span style="letter-spacing:-0.25px">OTP/OCP/SCP</span></div></div><div class="td" style="width:232px"><div><span style="letter-spacing:-0.06px">TO252</span></div></div></div>
<div class="tr" style="height:69px"><div class="td m" style="width:133px"><div>ME7805</div></div><div class="td" style="width:121px"><div><span style="letter-spacing:0.36px">35V</span></div></div><div class="td" style="width:121px"><div><span style="letter-spacing:0.13px">1.2A</span></div></div><div class="td" style="width:217px"><div><span style="letter-spacing:0.44px">5V</span></div></div><div class="td" style="width:110px"><div><span style="letter-spacing:0.76px">±5%</span></div></div><div class="td" style="width:101px"><div><span style="letter-spacing:0.53px">3.5mA</span></div></div><div class="td" style="width:117px"><div><span style="letter-spacing:0.4px">68dB</span></div></div><div class="td" style="width:149px"><div><span style="letter-spacing:0.44px">2V</span></div></div><div class="td" style="width:268px"><div><span style="letter-spacing:-0.25px">OTP/OCP/SCP</span></div></div><div class="td" style="width:232px"><div><span style="letter-spacing:-0.06px">TO220</span></div></div></div>
<div class="tr odd" style="height:69px"><div class="td m" style="width:133px"><div>MEB78L05</div></div><div class="td" style="width:121px"><div><span style="letter-spacing:0.36px">36V</span></div></div><div class="td" style="width:121px"><div><span style="letter-spacing:0.79px">100mA</span></div></div><div class="td" style="width:217px"><div><span style="letter-spacing:0.44px">5V</span></div></div><div class="td" style="width:110px"><div><span style="letter-spacing:0.76px">±1%</span></div></div><div class="td" style="width:101px"><div><span style="letter-spacing:1.3px">3mA</span></div></div><div class="td" style="width:117px"><div><span style="letter-spacing:0.4px">60dB</span></div></div><div class="td" style="width:149px"><div><span style="letter-spacing:-0.01px">2.2V</span></div></div><div class="td" style="width:268px"><div><span style="letter-spacing:-0.25px">OTP/OCP/SCP</span></div></div><div class="td" style="width:232px"><div><span style="letter-spacing:0.19px">SOT89-3/TO92</span></div></div></div>
<div class="tr" style="height:69px"><div class="td m" style="width:133px"><div>MEB78M05</div></div><div class="td" style="width:121px"><div><span style="letter-spacing:0.36px">40V</span></div></div><div class="td" style="width:121px"><div><span style="letter-spacing:0.79px">500mA</span></div></div><div class="td" style="width:217px"><div><span style="letter-spacing:0.44px">5V</span></div></div><div class="td" style="width:110px"><div><span style="letter-spacing:0.76px">±1%</span></div></div><div class="td" style="width:101px"><div><span style="letter-spacing:1.3px">3mA</span></div></div><div class="td" style="width:117px"><div><span style="letter-spacing:0.4px">60dB</span></div></div><div class="td" style="width:149px"><div><span style="letter-spacing:0.44px">2V</span></div></div><div class="td" style="width:268px"><div><span style="letter-spacing:-0.25px">OTP/OCP/SCP</span></div></div><div class="td" style="width:232px"><div><span style="letter-spacing:-0.06px">TO252</span></div></div></div>
<div class="tr odd" style="height:69px"><div class="td m" style="width:133px"><div>ME6261</div></div><div class="td" style="width:121px"><div><span style="letter-spacing:0.36px">60V</span></div></div><div class="td" style="width:121px"><div><span style="letter-spacing:0.79px">100mA</span></div></div><div class="td" style="width:217px"><div><span style="letter-spacing:0.38px">1.2-12V</span></div></div><div class="td" style="width:110px"><div><span style="letter-spacing:0.76px">±1%</span></div></div><div class="td" style="width:101px"><div><span style="letter-spacing:0.35px">2.5uA</span></div></div><div class="td" style="width:117px"><div><span style="letter-spacing:0.4px">70dB</span></div></div><div class="td" style="width:149px"><div><span style="letter-spacing:0.44px">1V</span></div></div><div class="td" style="width:268px"><div><span style="letter-spacing:0.27px">OTP/OCP/EN/LOW IQ</span></div></div><div class="td" style="width:232px"><div><span style="letter-spacing:0.16px">SOT23-3/SOT89-3</span></div></div></div>
</div>
<div class="trk"></div><div class="sb sb1"></div><div class="sb sb2"></div>
</div>
</body>
</html>
